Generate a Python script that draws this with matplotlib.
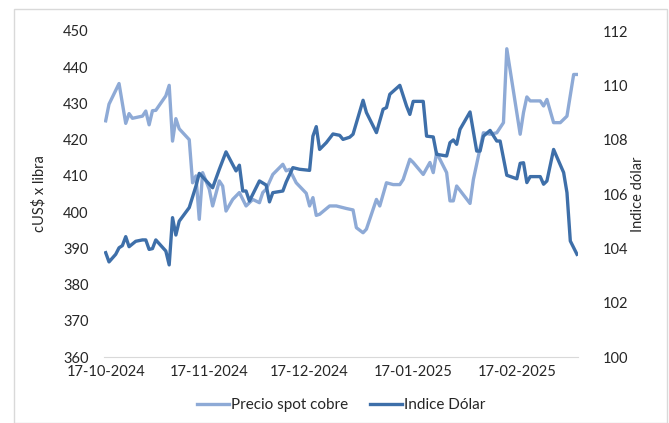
import matplotlib
matplotlib.use("Agg")
import matplotlib.pyplot as plt
import matplotlib.dates as mdates
from matplotlib.patches import Rectangle
import numpy as np

# Precio spot cobre (cUS$ x libra), left axis
cobre_fechas = [
    "2024-10-17", "2024-10-18", "2024-10-21", "2024-10-23", "2024-10-24",
    "2024-10-25", "2024-10-28", "2024-10-29", "2024-10-30", "2024-10-31",
    "2024-11-01", "2024-11-04", "2024-11-05", "2024-11-06", "2024-11-07",
    "2024-11-08", "2024-11-11", "2024-11-12", "2024-11-13", "2024-11-14",
    "2024-11-15", "2024-11-17", "2024-11-18", "2024-11-20", "2024-11-21",
    "2024-11-22", "2024-11-24", "2024-11-26", "2024-11-28", "2024-11-30",
    "2024-12-02", "2024-12-03", "2024-12-04", "2024-12-06", "2024-12-09",
    "2024-12-10", "2024-12-11", "2024-12-13", "2024-12-16", "2024-12-17",
    "2024-12-18", "2024-12-19", "2024-12-20", "2024-12-23", "2024-12-25",
    "2024-12-28", "2024-12-30", "2024-12-31", "2025-01-02", "2025-01-03",
    "2025-01-06", "2025-01-07", "2025-01-09", "2025-01-11", "2025-01-13",
    "2025-01-14", "2025-01-16", "2025-01-17", "2025-01-20", "2025-01-22",
    "2025-01-23", "2025-01-24", "2025-01-27", "2025-01-28", "2025-01-29",
    "2025-01-30", "2025-02-03", "2025-02-04", "2025-02-07", "2025-02-09",
    "2025-02-11", "2025-02-13", "2025-02-14", "2025-02-18", "2025-02-19",
    "2025-02-20", "2025-02-21", "2025-02-24", "2025-02-25", "2025-02-26",
    "2025-02-28", "2025-03-02", "2025-03-03", "2025-03-04", "2025-03-06",
    "2025-03-07",
]
cobre = [
    425.2, 429.8, 435.5, 424.5, 427.2,
    425.9, 426.5, 427.9, 424.1, 428.0,
    428.1, 432.1, 435.0, 419.6, 425.8,
    423.0, 420.0, 408.1, 410.0, 398.0,
    410.9, 406.3, 401.7, 408.6, 407.2,
    400.3, 403.5, 405.4, 401.7, 403.5,
    402.6, 405.4, 406.3, 410.4, 413.2,
    411.4, 411.8, 408.1, 405.2, 401.7,
    404.0, 399.1, 399.4, 401.7, 401.7,
    401.0, 400.6, 395.7, 394.3, 395.3,
    403.5, 401.7, 408.1, 407.6, 407.6,
    409.0, 414.6, 413.7, 410.4, 413.7,
    410.9, 416.4, 410.9, 403.1, 403.1,
    407.2, 402.4, 409.0, 421.9, 421.5,
    421.9, 424.7, 445.1, 421.5, 427.5,
    431.8, 430.7, 430.7, 429.3, 431.1,
    424.7, 424.7, 425.6, 426.5, 438.0,
    438.0,
]

# Indice Dólar, right axis
dolar_fechas = [
    "2024-10-17", "2024-10-18", "2024-10-20", "2024-10-21", "2024-10-22",
    "2024-10-23", "2024-10-24", "2024-10-26", "2024-10-28", "2024-10-29",
    "2024-10-30", "2024-10-31", "2024-11-01", "2024-11-04", "2024-11-05",
    "2024-11-06", "2024-11-07", "2024-11-08", "2024-11-11", "2024-11-13",
    "2024-11-14", "2024-11-18", "2024-11-20", "2024-11-22", "2024-11-25",
    "2024-11-26", "2024-11-27", "2024-11-28", "2024-11-29", "2024-12-02",
    "2024-12-04", "2024-12-05", "2024-12-06", "2024-12-09", "2024-12-10",
    "2024-12-12", "2024-12-14", "2024-12-17", "2024-12-18", "2024-12-19",
    "2024-12-20", "2024-12-22", "2024-12-24", "2024-12-26", "2024-12-27",
    "2024-12-29", "2024-12-30", "2025-01-02", "2025-01-03", "2025-01-06",
    "2025-01-08", "2025-01-09", "2025-01-10", "2025-01-13", "2025-01-15",
    "2025-01-16", "2025-01-17", "2025-01-20", "2025-01-21", "2025-01-23",
    "2025-01-24", "2025-01-27", "2025-01-28", "2025-01-29", "2025-01-30",
    "2025-01-31", "2025-02-03", "2025-02-05", "2025-02-06", "2025-02-07",
    "2025-02-09", "2025-02-11", "2025-02-12", "2025-02-14", "2025-02-17",
    "2025-02-18", "2025-02-19", "2025-02-20", "2025-02-21", "2025-02-24",
    "2025-02-25", "2025-02-26", "2025-02-28", "2025-03-03", "2025-03-04",
    "2025-03-05", "2025-03-07",
]
dolar = [
    103.84, 103.50, 103.78, 104.02, 104.10,
    104.43, 104.06, 104.26, 104.31, 104.31,
    103.96, 103.99, 104.31, 103.90, 103.39,
    105.13, 104.49, 105.00, 105.50, 106.29,
    106.76, 106.23, 106.91, 107.55, 106.85,
    107.06, 106.11, 106.11, 105.74, 106.48,
    106.33, 105.71, 106.05, 106.11, 106.44,
    106.97, 106.91, 106.87, 108.13, 108.48,
    107.64, 107.89, 108.21, 108.16, 108.01,
    108.09, 108.20, 109.45, 109.00, 108.26,
    109.12, 109.18, 109.67, 110.00, 109.24,
    108.93, 109.41, 109.41, 108.13, 108.10,
    107.46, 107.40, 107.89, 107.99, 107.83,
    108.38, 109.02, 107.58, 107.58, 108.13,
    108.34, 107.95, 107.95, 106.69, 106.56,
    107.13, 107.15, 106.42, 106.64, 106.64,
    106.36, 106.48, 107.64, 106.79, 106.05,
    104.27, 103.78,
]

etiquetas_x = ["2024-10-17", "2024-11-17", "2024-12-17", "2025-01-17", "2025-02-17"]

COLOR_COBRE = "#8eaad6"
COLOR_DOLAR = "#3e6fa9"
TEXT_COLOR = "#262626"

plt.rcParams["font.family"] = ["Lato", "DejaVu Sans"]
plt.rcParams["font.size"] = 10.5

fig = plt.figure(figsize=(6.69, 4.23), dpi=100)
fig.patches.append(Rectangle((14 / 669, 0), 653 / 669, 1 - 9 / 423,
                             transform=fig.transFigure, fill=False,
                             edgecolor="#d9d9d9", linewidth=1))

ax = fig.add_axes([104 / 669, 1 - 357 / 423, 474 / 669, 326 / 423])
ax2 = ax.twinx()

xc = mdates.datestr2num(cobre_fechas)
xd = mdates.datestr2num(dolar_fechas)

ax.plot(xc, cobre, color=COLOR_COBRE, linewidth=2.4, solid_joinstyle="round",
        label="Precio spot cobre", zorder=2)
ax2.plot(xd, dolar, color=COLOR_DOLAR, linewidth=2.4, solid_joinstyle="round",
         label="Indice Dólar", zorder=3)

ax.set_ylim(360, 450)
ax.set_yticks(np.arange(360, 451, 10))
ax2.set_ylim(100, 112)
ax2.set_yticks(np.arange(100, 113, 2))

x0 = mdates.datestr2num("2024-10-17") - 0.5
x1 = mdates.datestr2num("2025-03-07") + 0.3
ax.set_xlim(x0, x1)
ax.set_xticks(mdates.datestr2num(etiquetas_x))
ax.xaxis.set_major_formatter(mdates.DateFormatter("%d-%m-%Y"))

for a in (ax, ax2):
    for s in a.spines.values():
        s.set_visible(False)
    a.tick_params(length=0, colors=TEXT_COLOR, labelsize=10.5)
ax.spines["bottom"].set_visible(True)
ax.spines["bottom"].set_color("#d9d9d9")
ax.tick_params(axis="y", pad=11)
ax2.tick_params(axis="y", pad=18)
ax.tick_params(axis="x", pad=6)

ax.set_ylabel("cUS$ x libra", color=TEXT_COLOR, fontsize=10.5, labelpad=12)
ax2.set_ylabel("Indice dólar", color=TEXT_COLOR, fontsize=10.5, rotation=90,
               labelpad=2)

h1, l1 = ax.get_legend_handles_labels()
h2, l2 = ax2.get_legend_handles_labels()
fig.legend(h1 + h2, l1 + l2, loc="center", bbox_to_anchor=(0.51, 1 - 405 / 423),
           ncol=2, frameon=False, fontsize=11, handlelength=2.1,
           handletextpad=0.15, columnspacing=1.4, labelcolor=TEXT_COLOR)

fig.savefig("out.png", dpi=100)
